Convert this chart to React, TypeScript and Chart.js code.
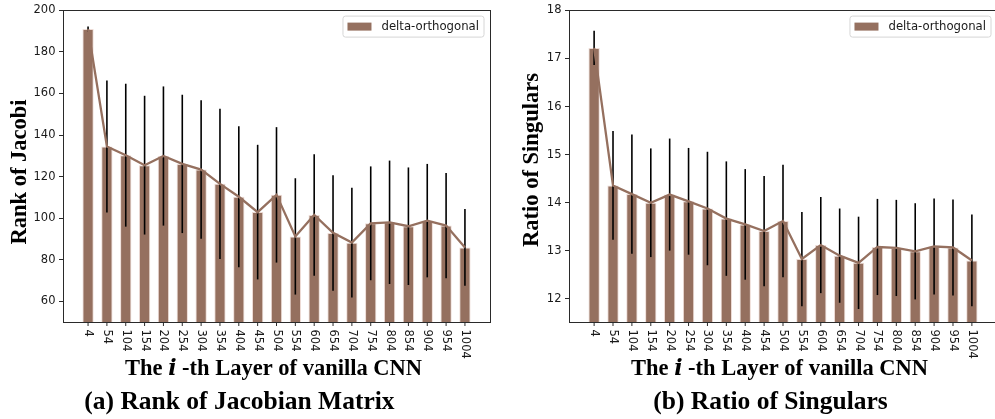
import React, { useEffect, useRef } from 'react';
import { Chart, registerables } from 'chart.js';

Chart.register(...registerables);

// ---------------- data ----------------
const LAYERS = ['4', '54', '104', '154', '204', '254', '304', '354', '404', '454', '504', '554', '604', '654', '704', '754', '804', '854', '904', '954', '1004'];
const SERIES_NAME = 'delta-orthogonal';

const RANK_MEAN = [191.0, 134.5, 130.3, 125.5, 129.9, 126.1, 123.4, 116.5, 110.3, 102.9, 111.2, 91.2, 101.5, 92.9, 88.2, 97.5, 98.0, 96.1, 98.8, 96.4, 85.9];
const RANK_ERR = [1.3, 31.8, 34.4, 33.4, 33.5, 33.3, 33.3, 36.2, 33.9, 32.4, 32.6, 28.0, 29.2, 27.8, 26.4, 27.4, 29.7, 28.3, 27.3, 25.3, 18.5];
const RANK_Y_TICKS = [60, 80, 100, 120, 140, 160, 180, 200];

const RATIO_MEAN = [17.22, 14.36, 14.18, 14.0, 14.17, 14.03, 13.88, 13.67, 13.55, 13.41, 13.62, 12.83, 13.12, 12.9, 12.75, 13.08, 13.06, 12.99, 13.09, 13.07, 12.8];
const RATIO_ERR = [0.355, 1.13, 1.24, 1.13, 1.165, 1.11, 1.18, 1.19, 1.15, 1.145, 1.17, 0.98, 1.0, 0.98, 0.96, 1.0, 1.0, 1.0, 1.0, 1.0, 0.955];
const RATIO_Y_TICKS = [12, 13, 14, 15, 16, 17, 18];

// ---------------- style ----------------
const BAR_COLOR = 'rgb(149,112,95)';
const BAR_EDGE = 'rgba(235,215,208,0.9)';
const AXIS_COLOR = '#2a2a2a';
const TEXT_COLOR = '#1a1a1a';
const SANS = "'DejaVu Sans', sans-serif";
const SERIF = "'Liberation Serif', 'Times New Roman', serif";
const TICK_FONT = 11.5;
const LEGEND_FONT = 11.7;

type Panel = {
  left: number;
  width: number;
  visibleWidth: number;
  yAxisWidth: number;
  padRight: number;
  yMin: number;
  yMax: number;
  yTicks: number[];
  means: number[];
  errs: number[];
  yTitle: string;
  yTitleX: number;
  yTitleY: number;
  xTitleX: number;
  caption: string;
  captionX: number;
};

const PANELS: Panel[] = [
  {
    left: 0, width: 500, visibleWidth: 500, yAxisWidth: 63, padRight: 10,
    yMin: 50, yMax: 200, yTicks: RANK_Y_TICKS, means: RANK_MEAN, errs: RANK_ERR,
    yTitle: 'Rank of Jacobi', yTitleX: 25.5, yTitleY: 172,
    xTitleX: 125, caption: '(a) Rank of Jacobian Matrix', captionX: 84.3,
  },
  {
    left: 500, width: 498, visibleWidth: 495, yAxisWidth: 69, padRight: 1,
    yMin: 11.52, yMax: 18, yTicks: RATIO_Y_TICKS, means: RATIO_MEAN, errs: RATIO_ERR,
    yTitle: 'Ratio of Singulars', yTitleX: 37.5, yTitleY: 160,
    xTitleX: 131, caption: '(b) Ratio of Singulars', captionX: 153.3,
  },
];

const HEIGHT = 419;
const TOP_PAD = 5;
const X_AXIS_HEIGHT = 97;
const X_MARGIN = 1.33;

function ChartPanel({ panel }: { panel: Panel }) {
  const ref = useRef<HTMLCanvasElement | null>(null);

  useEffect(() => {
    const canvas = ref.current;
    if (!canvas) return;

    const decor = {
      id: 'decor',
      afterDatasetDraw(chart: any, args: any) {
        if (args.index !== 1) return;
        const { ctx, scales } = chart;
        ctx.save();
        ctx.strokeStyle = '#000';
        ctx.lineWidth = 1.6;
        panel.means.forEach((m, i) => {
          const x = scales.x.getPixelForValue(i);
          const y1 = scales.y.getPixelForValue(m + panel.errs[i]);
          const y2 = scales.y.getPixelForValue(m - panel.errs[i]);
          ctx.beginPath();
          ctx.moveTo(x, y1);
          ctx.lineTo(x, y2);
          ctx.stroke();
        });
        ctx.restore();
      },
      afterDraw(chart: any) {
        const { ctx, chartArea: ca, scales } = chart;
        ctx.save();
        // frame
        ctx.strokeStyle = AXIS_COLOR;
        ctx.lineWidth = 1;
        const l = Math.round(ca.left) + 0.5;
        const t = Math.round(ca.top) + 0.5;
        const r = Math.round(ca.right) + 0.5;
        const b = Math.round(ca.bottom) + 0.5;
        ctx.strokeRect(l, t, r - l, b - t);

        // x ticks and labels
        ctx.fillStyle = TEXT_COLOR;
        ctx.font = `${TICK_FONT}px ${SANS}`;
        LAYERS.forEach((lab, i) => {
          const x = scales.x.getPixelForValue(i);
          ctx.beginPath();
          ctx.moveTo(x, b);
          ctx.lineTo(x, b + 3.5);
          ctx.stroke();
          ctx.save();
          ctx.translate(x, b + 7);
          ctx.rotate(Math.PI / 2);
          ctx.textAlign = 'left';
          ctx.textBaseline = 'middle';
          ctx.fillText(lab, 0, 0);
          ctx.restore();
        });

        // legend
        ctx.font = `${LEGEND_FONT}px ${SANS}`;
        const tw = ctx.measureText(SERIES_NAME).width;
        const boxW = 4.5 + 24 + 10 + tw + 5;
        const boxH = 21;
        const boxR = ca.right - 6;
        const boxL = boxR - boxW;
        const boxT = ca.top + 5.7;
        ctx.beginPath();
        const rad = 2.5;
        ctx.moveTo(boxL + rad, boxT);
        ctx.arcTo(boxR, boxT, boxR, boxT + boxH, rad);
        ctx.arcTo(boxR, boxT + boxH, boxL, boxT + boxH, rad);
        ctx.arcTo(boxL, boxT + boxH, boxL, boxT, rad);
        ctx.arcTo(boxL, boxT, boxR, boxT, rad);
        ctx.closePath();
        ctx.fillStyle = 'rgba(255,255,255,0.85)';
        ctx.fill();
        ctx.strokeStyle = '#d6d6d6';
        ctx.lineWidth = 1;
        ctx.stroke();
        const cy = boxT + boxH / 2;
        ctx.fillStyle = BAR_COLOR;
        ctx.fillRect(boxL + 4.5, cy - 4, 24, 8);
        ctx.fillStyle = TEXT_COLOR;
        ctx.textAlign = 'left';
        ctx.textBaseline = 'middle';
        ctx.fillText(SERIES_NAME, boxL + 4.5 + 24 + 10, cy + 0.5);

        // y title
        ctx.save();
        ctx.translate(panel.yTitleX, panel.yTitleY);
        ctx.rotate(-Math.PI / 2);
        ctx.font = `bold 22.5px ${SERIF}`;
        ctx.textAlign = 'center';
        ctx.textBaseline = 'alphabetic';
        ctx.fillStyle = '#000';
        ctx.fillText(panel.yTitle, 0, 0);
        ctx.restore();

        // x title with italic i
        ctx.fillStyle = '#000';
        ctx.textAlign = 'left';
        ctx.textBaseline = 'alphabetic';
        const segs = [
          { t: 'The ', f: `bold 22.5px ${SERIF}` },
          { t: 'i', f: `italic bold 22px 'DejaVu Serif', serif` },
          { t: ' -th Layer of vanilla CNN', f: `bold 22.5px ${SERIF}` },
        ];
        let x = panel.xTitleX;
        segs.forEach((s) => {
          ctx.font = s.f;
          ctx.fillText(s.t, x, 375);
          x += ctx.measureText(s.t).width;
        });

        // caption
        ctx.font = `bold 25.5px ${SERIF}`;
        ctx.fillText(panel.caption, panel.captionX, 409.3);
        ctx.restore();
      },
    };

    const chart = new Chart(canvas, {
      type: 'bar',
      data: {
        datasets: [
          {
            type: 'line',
            label: SERIES_NAME,
            data: panel.means.map((v, i) => ({ x: i, y: v })),
            borderColor: BAR_COLOR,
            borderWidth: 2.3,
            pointRadius: 0,
            tension: 0,
            order: 0,
          } as any,
          {
            type: 'bar',
            label: SERIES_NAME,
            data: panel.means.map((v, i) => ({ x: i, y: v })),
            backgroundColor: BAR_COLOR,
            borderColor: BAR_EDGE,
            borderWidth: 1,
            barPercentage: 0.6,
            categoryPercentage: 1,
            order: 1,
          },
        ],
      },
      options: {
        animation: false,
        responsive: false,
        maintainAspectRatio: false,
        devicePixelRatio: 1,
        layout: { padding: { top: TOP_PAD, right: panel.padRight, bottom: 0, left: 0 } },
        plugins: { legend: { display: false }, tooltip: { enabled: false }, title: { display: false } },
        scales: {
          x: {
            type: 'linear',
            min: -X_MARGIN,
            max: LAYERS.length - 1 + X_MARGIN,
            offset: false,
            grid: { display: false },
            border: { display: false },
            ticks: { display: false },
            afterFit: (s: any) => { s.height = X_AXIS_HEIGHT; },
          },
          y: {
            type: 'linear',
            min: panel.yMin,
            max: panel.yMax,
            grid: { display: true, drawOnChartArea: false, drawTicks: true, tickLength: 4, tickColor: AXIS_COLOR, lineWidth: 1 },
            border: { display: false },
            ticks: { font: { family: SANS, size: TICK_FONT }, color: TEXT_COLOR, padding: 3.5 },
            afterBuildTicks: (s: any) => { s.ticks = panel.yTicks.map((v) => ({ value: v })); },
            afterFit: (s: any) => { s.width = panel.yAxisWidth; },
          },
        },
      },
      plugins: [decor],
    });
    return () => chart.destroy();
  }, [panel]);

  return (
    <div style={{ position: 'absolute', left: panel.left, top: 0, width: panel.visibleWidth, height: HEIGHT, overflow: 'hidden' }}>
      <canvas ref={ref} width={panel.width} height={HEIGHT} style={{ width: panel.width, height: HEIGHT, display: 'block' }} />
    </div>
  );
}

export default function App() {
  return (
    <div style={{ position: 'absolute', left: 0, top: 0, width: 995, height: HEIGHT, overflow: 'hidden', background: '#fff' }}>
      {PANELS.map((p, i) => (
        <ChartPanel key={i} panel={p} />
      ))}
    </div>
  );
}
